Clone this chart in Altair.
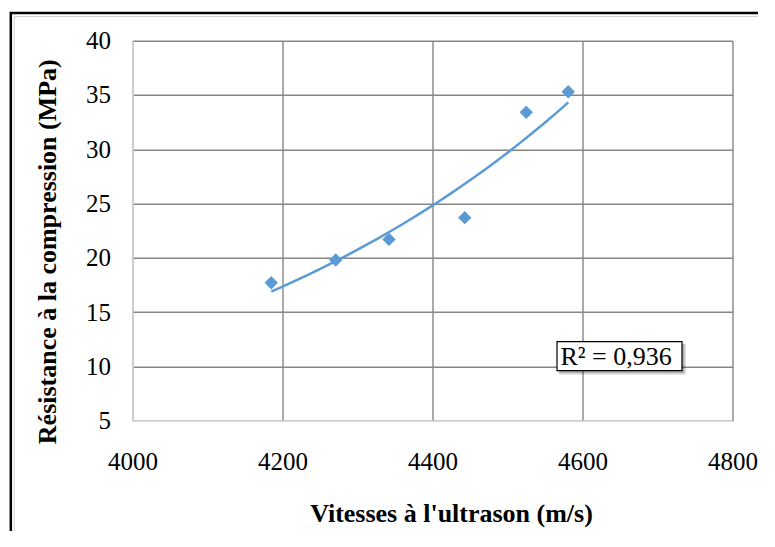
import altair as alt
import pandas as pd

# Data
vitesse = [4185, 4271, 4342, 4443, 4525, 4581]
resistance = [17.7, 19.8, 21.7, 23.7, 33.4, 35.3]
x_ticks = [4000, 4200, 4400, 4600, 4800]
y_ticks = [5, 10, 15, 20, 25, 30, 35, 40]
r2_label = "R² = 0,936"
x_title = "Vitesses à l'ultrason (m/s)"
y_title = "Résistance à la compression (MPa)"

df = pd.DataFrame({"v": vitesse, "r": resistance})
one = pd.DataFrame({"a": [0]})

FONT = "Liberation Serif"
BLUE = "#5B9BD5"

xs = alt.Scale(domain=[4000, 4800], nice=False, zero=False)
ys = alt.Scale(domain=[5, 40], nice=False, zero=False)

xenc = alt.X("v:Q", scale=xs, title=x_title,
             axis=alt.Axis(values=x_ticks, format="d"))
yenc = alt.Y("r:Q", scale=ys, title=y_title,
             axis=alt.Axis(values=y_ticks, format="d"))

outer = alt.Chart(one).mark_rect(fill="transparent", stroke="black", strokeWidth=2.5).encode(
    x=alt.value(-121.7), x2=alt.value(668), y=alt.value(-27.7), y2=alt.value(520))
inner = alt.Chart(one).mark_rect(fill="transparent", stroke="#d0d0d0", strokeWidth=1).encode(
    x=alt.value(-118.2), x2=alt.value(668), y=alt.value(-24.2), y2=alt.value(520))

points = alt.Chart(df).mark_point(shape="diamond", filled=True, size=180,
                                  color=BLUE, opacity=1).encode(x=xenc, y=yenc)

# Excel-style exponential trendline: least squares on log(y), then back-transform
trend = alt.Chart(df).transform_calculate(ly="log(datum.r)").transform_regression(
    "v", "ly", method="poly", order=1
).transform_calculate(r="exp(datum.ly)").mark_line(
    color=BLUE, strokeWidth=2.5).encode(x=xenc, y=yenc)

shadow2 = alt.Chart(one).mark_rect(fill="#000000", opacity=0.12, cornerRadius=2).encode(
    x=alt.value(426), x2=alt.value(553.5), y=alt.value(302.5), y2=alt.value(334))
shadow1 = alt.Chart(one).mark_rect(fill="#000000", opacity=0.22).encode(
    x=alt.value(427), x2=alt.value(552), y=alt.value(303.5), y2=alt.value(332.5))
box = alt.Chart(one).mark_rect(fill="white", stroke="black", strokeWidth=1.2).encode(
    x=alt.value(424.5), x2=alt.value(549.5), y=alt.value(301), y2=alt.value(330))
label = alt.Chart(one).mark_text(font=FONT, fontSize=26, align="left", baseline="middle",
                                 color="black").encode(
    x=alt.value(428), y=alt.value(316.5), text=alt.value(r2_label))

chart = alt.layer(outer, inner, trend, points, shadow2, shadow1, box, label).properties(
    width=600, height=380,
    autosize=alt.AutoSizeParams(type="none"),
    padding={"left": 124.5, "top": 32.7, "right": 25, "bottom": 110},
    background="white",
).configure_view(strokeOpacity=0).configure_axis(
    labelFont=FONT, labelFontSize=25, labelColor="black",
    titleFont=FONT, titleFontSize=26, titleFontWeight="bold", titleColor="black",
    grid=True, gridColor="#868686", gridWidth=1.4,
    domainColor="#d9d9d9", domainWidth=1.5,
    ticks=False, labelFlush=False,
).configure_axisX(
    labelPadding=29, titlePadding=26, titleX=318.5,
).configure_axisY(
    labelPadding=22, titlePadding=25, titleY=210.5,
)

chart.save("out.html", embed_options={"renderer": "svg", "actions": False})
